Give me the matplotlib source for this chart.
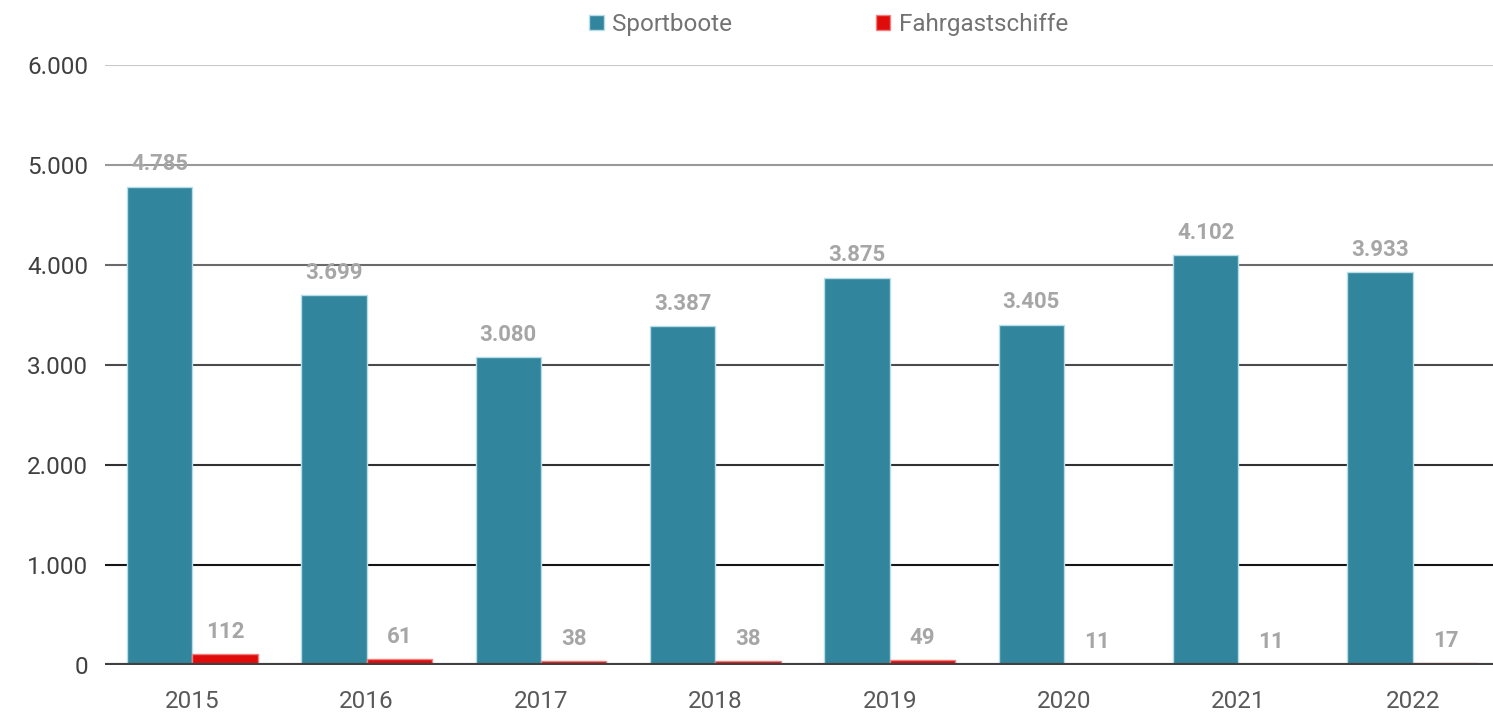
import matplotlib
matplotlib.use("Agg")
import matplotlib.pyplot as plt
import numpy as np

years = ["2015", "2016", "2017", "2018", "2019", "2020", "2021", "2022"]
sportboote = [4785, 3699, 3080, 3387, 3875, 3405, 4102, 3933]
fahrgast = [112, 61, 38, 38, 49, 11, 11, 17]
yticks = [0, 1000, 2000, 3000, 4000, 5000, 6000]
ytick_labels = ["0", "1.000", "2.000", "3.000", "4.000", "5.000", "6.000"]
grid_colors = ["#404040", "#151515", "#303030", "#4a4a4a", "#6a6a6a", "#999999", "#c8c8c8"]

def fmt(v):
    return f"{v:,}".replace(",", ".")

plt.rcParams['font.family'] = ['Roboto', 'DejaVu Sans']

fig = plt.figure(figsize=(14.93, 7.15), dpi=100)
ax = fig.add_axes([105/1493, 50/715, 1395/1493, 600/715])

x = np.arange(len(years))
w = 0.375
b1 = ax.bar(x - w/2, sportboote, w, color="#31859c", edgecolor="#b7dde8", linewidth=1, label="Sportboote", zorder=3)
b2 = ax.bar(x + w/2, fahrgast, w, color="#e00b0b", edgecolor="#f08080", linewidth=1, label="Fahrgastschiffe", zorder=3)

for i, v in enumerate(sportboote):
    ax.annotate(fmt(v), (x[i] - w/2, v), xytext=(0, 8), textcoords="offset points",
                ha="center", va="bottom", fontsize=16, fontweight="bold", color="#a6a6a6", zorder=4)
for i, v in enumerate(fahrgast):
    ax.annotate(fmt(v), (x[i] + w/2, v), xytext=(0, 8), textcoords="offset points",
                ha="center", va="bottom", fontsize=16, fontweight="bold", color="#a6a6a6", zorder=4)

for yv, c in zip(yticks, grid_colors):
    if yv == 0:
        ax.axhline(yv, color=c, linewidth=3, zorder=5)
    else:
        ax.axhline(yv, color=c, linewidth=1.5, zorder=1)

ax.set_xlim(-0.5, len(years) - 0.5)
ax.set_ylim(0, 6000)
ax.set_yticks(yticks)
ax.set_yticklabels(ytick_labels, fontsize=17.5, color="#404040")
ax.set_xticks(x)
ax.set_xticklabels(years, fontsize=17.5, color="#595959")
ax.tick_params(axis="both", length=0)
ax.tick_params(axis="y", pad=12)
ax.tick_params(axis="x", pad=18)
for s in ax.spines.values():
    s.set_visible(False)

leg = fig.legend(handles=[b1, b2], loc="upper center", bbox_to_anchor=(0.555, 1.012), ncol=2,
                 frameon=False, fontsize=17.5, handlelength=0.6, handleheight=0.6,
                 handletextpad=0.35, columnspacing=5.9)
for t in leg.get_texts():
    t.set_color("#737373")

fig.savefig("out.png", dpi=100)
